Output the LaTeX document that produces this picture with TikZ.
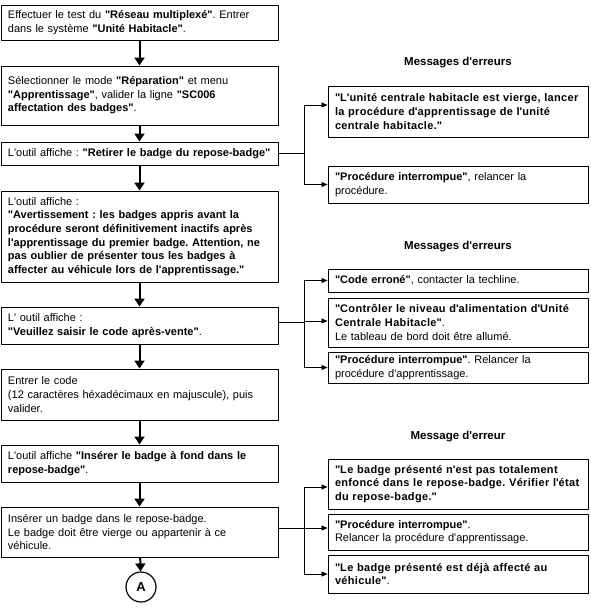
\documentclass[tikz,border=0pt]{standalone}
\usepackage{fontspec}
\setmainfont{Liberation Sans}
\newfontfamily\widefont{Liberation Sans}[LetterSpace=3]
\usetikzlibrary{arrows.meta,calc}
\newcommand\sq{\textquotesingle}
\newcommand\dq{\textquotedbl}
\newcommand\wb[1]{{\widefont\bfseries #1}}
\frenchspacing
\begin{document}
\begin{tikzpicture}[x=1pt,y=-1pt,
  every node/.style={font=\fontsize{11}{13.6}\selectfont},
  mainbox/.style={draw, line width=0.9pt, rectangle, align=left, inner xsep=7pt, inner ysep=0pt, text width=263pt},
  errbox/.style={draw, line width=0.9pt, rectangle, align=left, inner xsep=7pt, inner ysep=0pt, text width=246pt},
  heading/.style={font=\fontsize{11.5}{13.6}\selectfont\bfseries},
  flow/.style={line width=2pt, -{Triangle[length=8pt,width=10pt]}},
  conn/.style={line width=0.8pt, -{Triangle[length=6pt,width=5pt]}},
  link/.style={line width=0.8pt}]
\useasboundingbox (0,0) rectangle (591,614);

% main column
\node[mainbox, minimum height=35pt] (b1) at (139.5,22.5) {Effectuer le test du \textbf{\dq Réseau multiplexé\dq}. Entrer\\dans le système \textbf{\dq Unité Habitacle\dq}.};
\node[mainbox, minimum height=59pt] (b2) at (139.5,95.5) {Sélectionner le mode \textbf{\dq Réparation\dq} et menu\\\textbf{\dq Apprentissage\dq}, valider la ligne \textbf{\dq SC006}\\\textbf{affectation des badges\dq}.};
\node[mainbox, minimum height=23pt] (b3) at (139.5,153.5) {L\sq outil affiche : \textbf{\dq Retirer le badge du repose-badge\dq}};
\node[mainbox, minimum height=91pt] (b4) at (139.5,236.5) {L\sq outil affiche :\\\textbf{\dq Avertissement : les badges appris avant la}\\\textbf{procédure seront définitivement inactifs après}\\\textbf{l\sq apprentissage du premier badge. Attention, ne}\\\textbf{pas oublier de présenter tous les badges à}\\\textbf{affecter au véhicule lors de l\sq apprentissage.\dq}};
\node[mainbox, minimum height=37pt] (b5) at (139.5,325.5) {L\sq\ outil affiche :\\\textbf{\dq Veuillez saisir le code après-vente\dq}.};
\node[mainbox, minimum height=51pt] (b6) at (139.5,394.5) {Entrer le code\\(12 caractères héxadécimaux en majuscule), puis\\valider.};
\node[mainbox, minimum height=37pt] (b7) at (139.5,463.5) {L\sq outil affiche \textbf{\dq Insérer le badge à fond dans le}\\\textbf{repose-badge\dq}.};
\node[mainbox, minimum height=50pt] (b8) at (139.5,532) {Insérer un badge dans le repose-badge.\\Le badge doit être vierge ou appartenir à ce\\véhicule.};
\node[circle, draw, line width=1.2pt, minimum size=30pt, inner sep=0pt, font=\fontsize{13}{15}\selectfont\bfseries] (A) at (141,587) {A};

\draw[flow] (b1) -- (b2);
\draw[flow] (b2) -- (b3);
\draw[flow] (b3) -- (b4);
\draw[flow] (b4) -- (b5);
\draw[flow] (b5) -- (b6);
\draw[flow] (b6) -- (b7);
\draw[flow] (b7) -- (b8);
\draw[flow] (b8) -- (A);

% group 1
\node[heading] (h1) at (458,63) {Messages d\sq erreurs};
\node[errbox, minimum height=51pt] (a1) at (458,111.5) {\wb{\dq L\sq unité centrale habitacle est vierge, lancer}\\\wb{la procédure d\sq apprentissage de l\sq unité}\\\wb{centrale habitacle.\dq}};
\node[errbox, minimum height=37pt] (a2) at (458,184.5) {\textbf{\dq Procédure interrompue\dq}, relancer la\\procédure.};
\coordinate (f1) at (304,153.5);
\draw[link] (b3.east) -- (f1);
\draw[conn] (f1) |- ([yshift=6.5pt]a1.west);
\draw[conn] (f1) |- (a2.west);

% group 2
\node[heading] (h2) at (458,247) {Messages d\sq erreurs};
\node[errbox, minimum height=23pt] (e1) at (458,280.5) {\textbf{\dq Code erroné\dq}, contacter la techline.};
\node[errbox, minimum height=49pt] (e2) at (458,322.5) {\wb{\dq Contrôler le niveau d\sq alimentation d\sq Unité}\\\wb{Centrale Habitacle\dq}.\\Le tableau de bord doit être allumé.};
\node[errbox, minimum height=31pt] (e3) at (458,367.5) {\textbf{\dq Procédure interrompue\dq}. Relancer la\\procédure d\sq apprentissage.};
\coordinate (f2) at (304,322);
\draw[link] ([yshift=3.5pt]b5.east) -- (f2);
\draw[conn] (f2) |- (e1.west);
\draw[conn] (f2) |- ([yshift=1.5pt]e2.west);
\draw[conn] (f2) |- (e3.west);

% group 3
\node[heading] (h3) at (458,437) {Message d\sq erreur};
\node[errbox, minimum height=50pt] (g1) at (458,484) {\wb{\dq Le badge présenté n\sq est pas totalement}\\\wb{enfoncé dans le repose-badge. Vérifier l\sq état}\\\wb{du repose-badge.\dq}};
\node[errbox, minimum height=36pt] (g2) at (458,532) {\textbf{\dq Procédure interrompue\dq}.\\Relancer la procédure d\sq apprentissage.};
\node[errbox, minimum height=38pt] (g3) at (458,574) {\wb{\dq Le badge présenté est déjà affecté au}\\\wb{véhicule\dq}.};
\coordinate (f3) at (304,528);
\draw[link] ([yshift=4pt]b8.east) -- (f3);
\draw[conn] (f3) |- ([yshift=-3pt]g1.west);
\draw[conn] (f3) |- ([yshift=4pt]g2.west);
\draw[conn] (f3) |- (g3.west);
\end{tikzpicture}
\end{document}
